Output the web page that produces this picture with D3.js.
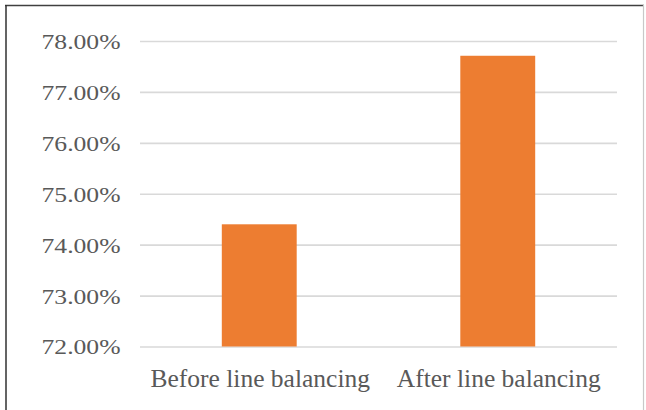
<!DOCTYPE html>
<html>
<head>
<meta charset="utf-8">
<script src="https://cdn.jsdelivr.net/npm/d3@7"></script>
<style>
  html, body { margin: 0; padding: 0; background: #fff; }
  svg { display: block; }
</style>
</head>
<body>
<svg id="chart" width="646" height="410"></svg>
<script>
const categories = ["Before line balancing", "After line balancing"];
const values = [74.40, 77.71];
const tickValues = [72, 73, 74, 75, 76, 77, 78];

const svg = d3.select("#chart");
const W = 646, H = 410;
const plotLeft = 140, plotRight = 617, plotTop = 41, plotBottom = 346.5;

svg.append("rect").attr("width", W).attr("height", H).attr("fill", "#fff");

const y = d3.scaleLinear().domain([72, 78]).range([plotBottom, plotTop]);
const x = d3.scaleBand().domain(categories).range([plotLeft, plotRight])
  .paddingInner(0.686).paddingOuter(0.343);

// gridlines + tick labels
const axis = d3.axisLeft(y)
  .tickValues(tickValues)
  .tickSize(-(plotRight - plotLeft))
  .tickPadding(0)
  .tickFormat(d => d.toFixed(2) + "%");

const g = svg.append("g").attr("transform", `translate(${plotLeft},0)`).call(axis);
g.select(".domain").remove();
g.selectAll(".tick line").attr("stroke", "#d9d9d9").attr("stroke-width", 1.6);
const sx = 1.165;
g.selectAll(".tick text")
  .attr("x", -19.5 / sx)
  .attr("dy", "0.34em")
  .attr("transform", `scale(${sx},1)`)
  .attr("text-anchor", "end")
  .attr("fill", "#595959")
  .style("font-family", "'Liberation Serif', 'Times New Roman', serif")
  .style("font-size", "22px");

// bars
svg.append("g").selectAll("rect")
  .data(categories.map((c, i) => ({ c, v: values[i] })))
  .join("rect")
  .attr("x", d => x(d.c))
  .attr("y", d => y(d.v))
  .attr("width", x.bandwidth())
  .attr("height", d => y(72) - y(d.v))
  .attr("fill", "#ED7D31");

// category labels
svg.append("g").selectAll("text")
  .data(categories)
  .join("text")
  .attr("x", d => x(d) + x.bandwidth() / 2 + 1)
  .attr("y", 387)
  .attr("text-anchor", "middle")
  .attr("fill", "#595959")
  .style("font-family", "'Liberation Serif', 'Times New Roman', serif")
  .style("font-size", "25.5px")
  .text(d => d);

// outer frame
svg.append("line").attr("x1", 5).attr("x2", 644).attr("y1", 5.5).attr("y2", 5.5)
  .attr("stroke", "#404040").attr("stroke-width", 1.5);
svg.append("line").attr("x1", 6).attr("x2", 6).attr("y1", 5).attr("y2", H)
  .attr("stroke", "#303030").attr("stroke-width", 1.5);
svg.append("line").attr("x1", 643.5).attr("x2", 643.5).attr("y1", 5).attr("y2", H)
  .attr("stroke", "#c8c8c8").attr("stroke-width", 1.2);
</script>
</body>
</html>
